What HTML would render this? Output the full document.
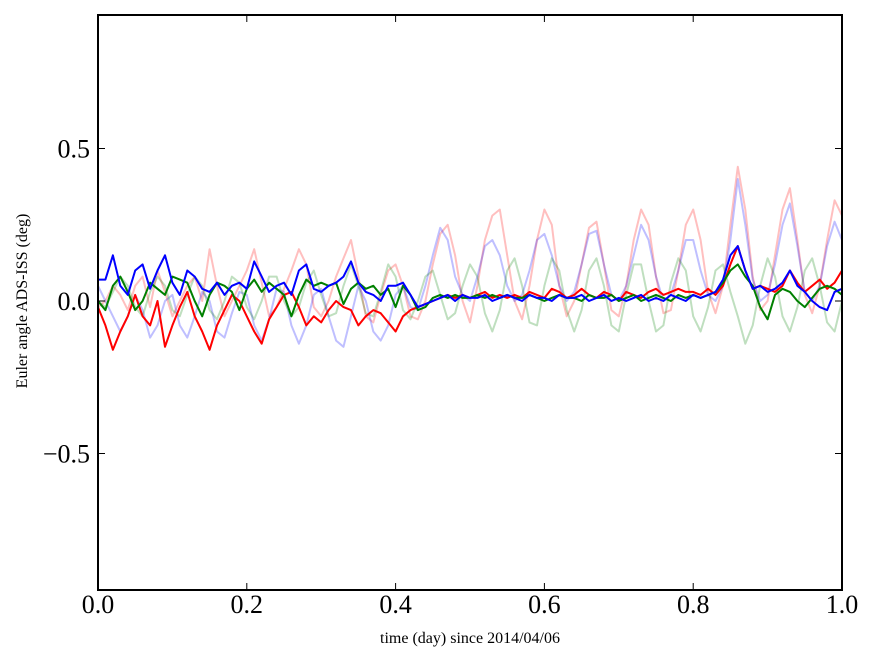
<!DOCTYPE html>
<html><head><meta charset="utf-8"><style>
html,body{margin:0;padding:0;background:#fff;width:875px;height:662px;overflow:hidden}
svg{display:block;font-family:"Liberation Serif",serif}
</style></head><body>
<svg id="chart" width="875" height="662"></svg>
<script>
const xTicks=[0,0.2,0.4,0.6,0.8,1.0];
const xTickLabels=["0.0","0.2","0.4","0.6","0.8","1.0"];
const yTicks=[-0.5,0,0.5];
const yTickLabels=["\u22120.5","0.0","0.5"];
const times=[];for(let i=0;i<=100;i++)times.push(i/100);
const faintRed=[-0.02,0.0,0.05,0.02,-0.03,0.05,0.08,-0.02,0.1,0.03,-0.05,0.0,0.05,0.08,0.0,0.17,0.05,-0.05,0.0,0.05,0.1,0.17,0.06,-0.05,-0.02,0.04,0.1,0.17,0.12,-0.02,-0.05,0.0,0.08,0.14,0.2,0.08,-0.05,-0.07,0.02,0.1,0.12,0.05,-0.05,-0.06,0.0,0.12,0.22,0.25,0.15,0.0,-0.07,0.05,0.2,0.28,0.3,0.15,0.0,-0.06,0.05,0.2,0.3,0.25,0.05,-0.05,0.0,0.12,0.24,0.26,0.12,-0.03,-0.05,0.05,0.2,0.3,0.25,0.08,-0.04,-0.03,0.1,0.25,0.3,0.2,0.03,-0.04,0.05,0.25,0.44,0.3,0.08,-0.03,0.0,0.15,0.3,0.37,0.2,0.02,-0.04,0.05,0.2,0.33,0.28];
const faintBlue=[0.05,0.0,-0.05,-0.1,-0.05,0.02,-0.03,-0.12,-0.08,0.0,0.02,-0.08,-0.12,-0.05,0.03,0.0,-0.1,-0.12,-0.04,0.03,0.02,-0.08,-0.13,-0.06,0.04,0.03,-0.08,-0.14,-0.08,0.02,0.04,-0.05,-0.13,-0.15,-0.05,0.05,0.0,-0.1,-0.13,-0.08,0.02,0.05,-0.02,-0.03,0.05,0.15,0.24,0.2,0.08,0.02,0.0,0.08,0.18,0.2,0.15,0.05,0.0,0.02,0.1,0.2,0.22,0.15,0.05,0.0,0.03,0.12,0.22,0.23,0.12,0.02,0.0,0.05,0.15,0.25,0.2,0.08,0.0,0.02,0.1,0.2,0.2,0.1,0.02,0.0,0.05,0.2,0.4,0.25,0.07,0.0,0.02,0.12,0.25,0.32,0.18,0.03,0.0,0.05,0.18,0.26,0.2];
const faintGreen=[0.0,-0.02,0.03,0.08,0.05,-0.02,-0.05,0.03,0.08,0.05,-0.03,-0.05,0.02,0.08,0.05,-0.03,-0.06,0.0,0.08,0.06,-0.02,-0.06,0.0,0.08,0.08,0.0,-0.05,-0.02,0.06,0.1,0.02,-0.05,-0.04,0.05,0.12,0.05,-0.04,-0.05,0.03,0.12,0.08,-0.03,-0.06,0.0,0.08,0.1,0.02,-0.06,-0.04,0.05,0.12,0.08,-0.04,-0.1,-0.03,0.1,0.14,0.05,-0.07,-0.08,0.05,0.14,0.1,-0.03,-0.1,-0.03,0.1,0.14,0.05,-0.08,-0.1,0.02,0.12,0.12,0.0,-0.1,-0.08,0.06,0.14,0.1,-0.05,-0.1,-0.02,0.1,0.12,0.03,-0.05,-0.14,-0.08,0.05,0.14,0.08,-0.05,-0.1,-0.02,0.1,0.14,0.05,-0.07,-0.1,0.0];
const redSeries=[-0.02,-0.08,-0.16,-0.1,-0.05,0.02,-0.05,-0.08,0.0,-0.15,-0.08,-0.02,0.03,-0.05,-0.1,-0.16,-0.08,-0.03,0.02,0.0,-0.05,-0.1,-0.14,-0.06,-0.02,0.02,0.03,-0.02,-0.08,-0.05,-0.07,-0.03,0.0,-0.02,-0.03,-0.08,-0.05,-0.03,-0.04,-0.07,-0.1,-0.05,-0.03,-0.02,-0.01,0.0,0.01,0.02,0.01,0.02,0.01,0.02,0.03,0.01,0.02,0.01,0.02,0.01,0.03,0.02,0.01,0.04,0.03,0.01,0.02,0.04,0.02,0.01,0.03,0.02,0.0,0.03,0.02,0.01,0.03,0.04,0.02,0.03,0.04,0.03,0.03,0.02,0.04,0.02,0.05,0.12,0.18,0.1,0.04,0.05,0.04,0.03,0.05,0.1,0.06,0.03,0.05,0.07,0.04,0.06,0.1];
const greenSeries=[0.0,-0.03,0.05,0.08,0.03,-0.03,0.0,0.06,0.04,0.02,0.08,0.07,0.06,0.0,-0.05,0.02,0.06,0.05,0.03,-0.03,0.04,0.07,0.03,0.06,0.04,0.02,-0.05,0.02,0.07,0.05,0.06,0.05,0.06,-0.01,0.04,0.06,0.04,0.05,0.02,0.04,-0.02,0.05,0.02,-0.03,-0.02,0.01,0.02,0.01,0.02,0.01,0.01,0.02,0.01,0.02,0.01,0.02,0.01,0.01,0.02,0.01,0.0,0.01,0.02,0.01,0.01,0.0,0.02,0.01,0.01,0.02,0.0,0.01,0.02,0.0,0.01,0.02,0.01,0.0,0.02,0.01,0.02,0.01,0.02,0.03,0.06,0.1,0.12,0.08,0.05,-0.02,-0.06,0.02,0.04,0.03,0.0,-0.02,0.01,0.04,0.05,0.04,0.02];
const blueSeries=[0.07,0.07,0.15,0.05,0.02,0.1,0.12,0.04,0.1,0.15,0.06,0.02,0.1,0.08,0.04,0.03,0.06,0.02,0.05,0.06,0.04,0.13,0.08,0.03,0.05,0.06,0.02,0.1,0.12,0.04,0.03,0.05,0.06,0.08,0.13,0.06,0.03,0.02,0.0,0.05,0.05,0.06,0.02,-0.02,-0.01,0.0,0.01,0.02,0.0,0.02,0.01,0.01,0.02,0.0,0.01,0.02,0.01,0.0,0.02,0.01,0.01,0.0,0.02,0.01,0.01,0.02,0.0,0.01,0.02,0.0,0.01,0.0,0.01,0.02,0.0,0.01,0.0,0.02,0.01,0.0,0.02,0.01,0.02,0.03,0.07,0.15,0.18,0.1,0.04,0.05,0.03,0.04,0.06,0.1,0.05,0.03,0.0,-0.02,-0.03,0.03,0.04];

const L=98,R=842,T=15,B=590;
const xScale=v=>L+v*(R-L);
const yScale=v=>301-v*305;
const NS="http://www.w3.org/2000/svg";
const svg=document.getElementById('chart');
function mk(tag,attrs,parent){const e=document.createElementNS(NS,tag);for(const k in attrs)e.setAttribute(k,attrs[k]);(parent||svg).appendChild(e);return e;}

const clip=mk('clipPath',{id:'plotclip'});mk('rect',{x:L,y:T,width:R-L,height:B-T},clip);
const plotG=mk('g',{'clip-path':'url(#plotclip)'});



function drawLine(vals,color,opacity,width,name){
  let d='';vals.forEach((v,i)=>{d+=(i?'L':'M')+xScale(times[i]).toFixed(1)+','+yScale(v).toFixed(1);});
  const p=mk('path',{d:d,fill:'none',stroke:color,'stroke-opacity':opacity,'stroke-width':width,'stroke-linejoin':'round'},plotG);
  
  
}
drawLine(faintRed,'#ff0000',0.25,2,'faint-red-series');
drawLine(faintBlue,'#0000ff',0.25,2,'faint-blue-series');
drawLine(faintGreen,'#008000',0.25,2,'faint-green-series');
drawLine(redSeries,'#ff0000',1,2,'red-series');
drawLine(greenSeries,'#008000',1,2,'green-series');
drawLine(blueSeries,'#0000ff',1,2,'blue-series');

const frame=mk('rect',{x:L,y:T,width:R-L,height:B-T,fill:'none',stroke:'#000','stroke-width':2});



xTicks.forEach((t,i)=>{
  const x=xScale(t);
  mk('line',{x1:x,y1:B,x2:x,y2:B-7,stroke:'#000','stroke-width':1});
  mk('line',{x1:x,y1:T,x2:x,y2:T+7,stroke:'#000','stroke-width':1});
  const tx=mk('text',{x:x,y:613,'font-size':26,'text-anchor':'middle',fill:'#000'});
  tx.textContent=xTickLabels[i];
  
  
});
yTicks.forEach((t,i)=>{
  const y=yScale(t);
  mk('line',{x1:L,y1:y,x2:L+7,y2:y,stroke:'#000','stroke-width':1});
  mk('line',{x1:R,y1:y,x2:R-7,y2:y,stroke:'#000','stroke-width':1});
  const tx=mk('text',{x:90,y:y+9,'font-size':26,'text-anchor':'end',fill:'#000'});
  tx.textContent=yTickLabels[i];
  
  
});
const xt=mk('text',{x:470,y:643,'font-size':16,'text-anchor':'middle',fill:'#000'});
xt.textContent='time (day) since 2014/04/06';


const yt=mk('text',{x:0,y:0,'font-size':16,'text-anchor':'middle',fill:'#000',transform:'translate(27,301) rotate(-90)'});
yt.textContent='Euler angle ADS-ISS (deg)';


</script>
</body></html>
